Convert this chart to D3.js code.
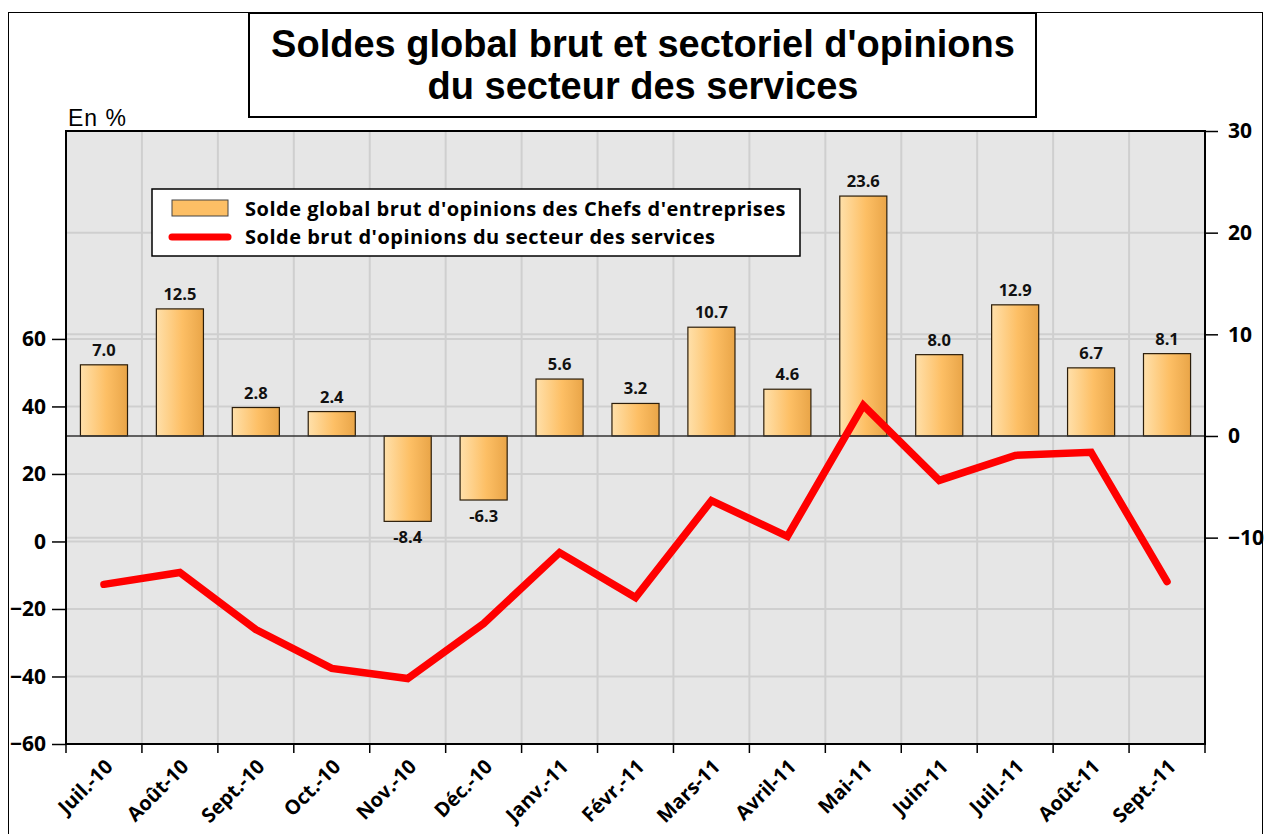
<!DOCTYPE html>
<html>
<head>
<meta charset="utf-8">
<script src="https://cdn.jsdelivr.net/npm/d3@7"></script>
<style>
  body { margin: 0; background: #fff; }
  svg { display: block; }
</style>
</head>
<body>
<script>
var width = 1265;
var height = 834;

// data
var months = ["Juil.-10", "Août-10", "Sept.-10", "Oct.-10", "Nov.-10", "Déc.-10", "Janv.-11", "Févr.-11",
  "Mars-11", "Avril-11", "Mai-11", "Juin-11", "Juil.-11", "Août-11", "Sept.-11"];
var globalBalance = [7.0, 12.5, 2.8, 2.4, -8.4, -6.3, 5.6, 3.2, 10.7, 4.6, 23.6, 8.0, 12.9, 6.7, 8.1];
var servicesBalance = [-12.7, -9.2, -26.1, -37.6, -40.6, -24.3, -3.3, -16.6, 12.1, 1.5, 40.3, 18.1, 25.5, 26.4, -11.9];
var leftTicks = [-60, -40, -20, 0, 20, 40, 60];
var rightTicks = [-10, 0, 10, 20, 30];
var titleLines = ["Soldes global brut et sectoriel d'opinions", "du secteur des services"];
var legendLabels = ["Solde global brut d'opinions des Chefs d'entreprises", "Solde brut d'opinions du secteur des services"];

var plot = {left: 66, right: 1205, top: 131, bottom: 744};
var calibri = "'Open Sans', Lato, sans-serif";
var arial = "'Liberation Sans', Arial, sans-serif";

var svg = d3.select("body")
    .append("svg")
    .attr("width", width)
    .attr("height", height);

var defs = svg.append("defs");
var grad = defs.append("linearGradient")
    .attr("id", "barGrad")
    .attr("x1", "0%").attr("x2", "100%")
    .attr("y1", "0%").attr("y2", "0%");
grad.append("stop").attr("offset", "0%").attr("stop-color", "#FFE0AA");
grad.append("stop").attr("offset", "55%").attr("stop-color", "#FDBF65");
grad.append("stop").attr("offset", "100%").attr("stop-color", "#E9A548");

// outer frame
svg.append("rect")
    .attr("x", 8.5).attr("y", 12.5)
    .attr("width", 1254).attr("height", 900)
    .attr("fill", "none")
    .attr("stroke", "#000")
    .attr("stroke-width", 1);

// scales
var x = d3.scaleBand()
    .domain(months)
    .range([plot.left, plot.right])
    .paddingInner(0.38)
    .paddingOuter(0.19);

var yLeft = d3.scaleLinear()
    .domain([-60, 121.6])
    .range([plot.bottom, plot.top]);

var yRight = d3.scaleLinear()
    .domain([-30.3, 30])
    .range([plot.bottom, plot.top]);

var gap = (x.step() - x.bandwidth()) / 2;
var boundaries = months.map(function(m) { return x(m) - gap; });
boundaries.push(plot.right);

// plot area
svg.append("rect")
    .attr("x", plot.left).attr("y", plot.top)
    .attr("width", plot.right - plot.left)
    .attr("height", plot.bottom - plot.top)
    .attr("fill", "#E6E6E6");

var grid = svg.append("g")
    .attr("stroke", "#CFCFCF")
    .attr("stroke-width", 2);

grid.selectAll(".vgrid")
    .data(boundaries.slice(1, -1))
    .enter().append("line")
    .attr("x1", function(d) { return d; })
    .attr("x2", function(d) { return d; })
    .attr("y1", plot.top)
    .attr("y2", plot.bottom);

grid.selectAll(".lgrid")
    .data(leftTicks.filter(function(d) { return d > -60; }))
    .enter().append("line")
    .attr("x1", plot.left).attr("x2", plot.right)
    .attr("y1", function(d) { return yLeft(d); })
    .attr("y2", function(d) { return yLeft(d); });

grid.selectAll(".rgrid")
    .data(rightTicks.filter(function(d) { return d !== 0 && d < 30; }))
    .enter().append("line")
    .attr("x1", plot.left).attr("x2", plot.right)
    .attr("y1", function(d) { return yRight(d); })
    .attr("y2", function(d) { return yRight(d); });

// bars
svg.selectAll(".bar")
    .data(globalBalance)
    .enter().append("rect")
    .attr("class", "bar")
    .attr("x", function(d, i) { return x(months[i]); })
    .attr("width", x.bandwidth())
    .attr("y", function(d) { return yRight(Math.max(0, d)); })
    .attr("height", function(d) { return Math.abs(yRight(d) - yRight(0)); })
    .attr("fill", "url(#barGrad)")
    .attr("stroke", "#2b1d0a")
    .attr("stroke-width", 1.2);

// zero line of the right axis
svg.append("line")
    .attr("x1", plot.left).attr("x2", plot.right)
    .attr("y1", yRight(0)).attr("y2", yRight(0))
    .attr("stroke", "#333")
    .attr("stroke-width", 1.5);

// bar labels
svg.selectAll(".barlabel")
    .data(globalBalance)
    .enter().append("text")
    .attr("x", function(d, i) { return x(months[i]) + x.bandwidth() / 2; })
    .attr("y", function(d) { return d >= 0 ? yRight(d) - 9 : yRight(d) + 22; })
    .attr("text-anchor", "middle")
    .attr("font-family", calibri)
    .attr("font-weight", "bold")
    .attr("font-size", 16.5)
    .attr("fill", "#111")
    .text(function(d) { return d.toFixed(1); });

// services line
var line = d3.line()
    .x(function(d, i) { return x(months[i]) + x.bandwidth() / 2; })
    .y(function(d) { return yLeft(d); });

svg.append("path")
    .datum(servicesBalance)
    .attr("d", line)
    .attr("fill", "none")
    .attr("stroke", "#FF0000")
    .attr("stroke-width", 7.5)
    .attr("stroke-linecap", "round")
    .attr("stroke-linejoin", "miter");

// plot border
svg.append("rect")
    .attr("x", plot.left).attr("y", plot.top)
    .attr("width", plot.right - plot.left)
    .attr("height", plot.bottom - plot.top)
    .attr("fill", "none")
    .attr("stroke", "#000")
    .attr("stroke-width", 2);

// left axis
var leftAxis = svg.append("g")
    .attr("transform", "translate(" + plot.left + ",0)")
    .call(d3.axisLeft(yLeft).tickValues(leftTicks).tickSize(14).tickPadding(6));
leftAxis.select(".domain").remove();
leftAxis.selectAll("line").attr("stroke", "#000").attr("stroke-width", 1.5);
leftAxis.selectAll("text")
    .attr("font-family", calibri)
    .attr("font-weight", "bold")
    .attr("font-size", 21)
    .attr("fill", "#000");

// right axis
var rightAxis = svg.append("g")
    .attr("transform", "translate(" + plot.right + ",0)")
    .call(d3.axisRight(yRight).tickValues(rightTicks).tickSize(13).tickPadding(10));
rightAxis.select(".domain").remove();
rightAxis.selectAll("line").attr("stroke", "#000").attr("stroke-width", 1.5);
rightAxis.selectAll("text")
    .attr("font-family", calibri)
    .attr("font-weight", "bold")
    .attr("font-size", 21)
    .attr("fill", "#000");

// x axis ticks at category boundaries
svg.selectAll(".xtick")
    .data(boundaries)
    .enter().append("line")
    .attr("x1", function(d) { return d; })
    .attr("x2", function(d) { return d; })
    .attr("y1", plot.bottom)
    .attr("y2", plot.bottom + 9)
    .attr("stroke", "#000")
    .attr("stroke-width", 1.5);

svg.selectAll(".xlabel")
    .data(months)
    .enter().append("text")
    .attr("transform", function(d) {
      var cx = x(d) + x.bandwidth() / 2;
      return "translate(" + (cx + 10) + "," + (plot.bottom + 24) + ") rotate(-45)";
    })
    .attr("text-anchor", "end")
    .attr("font-family", calibri)
    .attr("font-weight", "bold")
    .attr("font-size", 20)
    .attr("fill", "#000")
    .text(function(d) { return d; });

// unit label
svg.append("text")
    .attr("x", 68).attr("y", 126)
    .attr("font-family", arial)
    .attr("font-size", 23)
    .attr("letter-spacing", 1)
    .attr("fill", "#000")
    .text("En %");

// title box
svg.append("rect")
    .attr("x", 249).attr("y", 13)
    .attr("width", 787).attr("height", 104)
    .attr("fill", "#fff")
    .attr("stroke", "#000")
    .attr("stroke-width", 2);

svg.selectAll(".title")
    .data(titleLines)
    .enter().append("text")
    .attr("x", 643)
    .attr("y", function(d, i) { return 57 + i * 42; })
    .attr("text-anchor", "middle")
    .attr("font-family", arial)
    .attr("font-weight", "bold")
    .attr("font-size", 38)
    .attr("fill", "#000")
    .text(function(d) { return d; });

// legend
var legend = svg.append("g");
legend.append("rect")
    .attr("x", 152).attr("y", 189)
    .attr("width", 648).attr("height", 67)
    .attr("fill", "#fff")
    .attr("stroke", "#000")
    .attr("stroke-width", 1.5);

legend.append("rect")
    .attr("x", 172).attr("y", 200)
    .attr("width", 56).attr("height", 16)
    .attr("fill", "#FDBF65")
    .attr("stroke", "#444")
    .attr("stroke-width", 1);

legend.append("line")
    .attr("x1", 172).attr("x2", 228)
    .attr("y1", 237).attr("y2", 237)
    .attr("stroke", "#FF0000")
    .attr("stroke-width", 7)
    .attr("stroke-linecap", "round");

legend.selectAll(".legtext")
    .data(legendLabels)
    .enter().append("text")
    .attr("x", 245)
    .attr("y", function(d, i) { return 216 + i * 28; })
    .attr("font-family", calibri)
    .attr("font-weight", "bold")
    .attr("font-size", 20)
    .attr("letter-spacing", 0.5)
    .attr("fill", "#000")
    .text(function(d) { return d; });
</script>
</body>
</html>
